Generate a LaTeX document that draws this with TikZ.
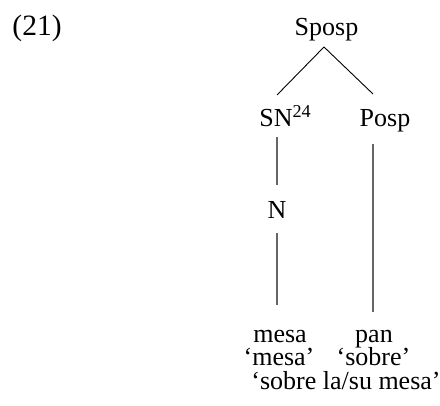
\documentclass[tikz,border=0pt]{standalone}
\usepackage{fontspec}
\setmainfont{Liberation Serif}
\begin{document}
\begin{tikzpicture}[x=1pt,y=1pt,
  lbl/.style={anchor=base,inner sep=0pt,outer sep=0pt,font=\fontsize{26}{30}\selectfont},
  diag/.style={draw=black,line width=0.9pt},
  vert/.style={draw=black!60,line width=1.3pt}]
\useasboundingbox (0,0) rectangle (440,406);
\node[lbl,anchor=base west,font=\fontsize{29.5}{33}\selectfont] (ex) at (12.5,370) {(21)};
\node[lbl] (sposp) at (326.5,370) {Sposp};
\node[lbl] (sn) at (276,279) {SN\rlap{\smash{\textsuperscript{24}}}};
\node[lbl] (posp) at (385,279) {Posp};
\node[lbl] (n) at (277,187) {N};
\node[lbl] (mesa) at (280,63) {mesa};
\node[lbl] (pan) at (374,63) {pan};
\node[lbl] (gmesa) at (279,40) {‘mesa’};
\node[lbl] (gsobre) at (373.5,40) {‘sobre’};
\node[lbl] (trans) at (346,16) {‘sobre la/su mesa’};
\draw[diag] ([xshift=-2.5pt,yshift=-11pt]sposp.base) -- ([xshift=1pt,yshift=32pt]sn.base);
\draw[diag] ([xshift=-2.5pt,yshift=-11pt]sposp.base) -- ([xshift=-12pt,yshift=33pt]posp.base);
\draw[vert] ([xshift=1pt,yshift=-10pt]sn.base) -- ([yshift=34pt]n.base);
\draw[vert] ([yshift=-14pt]n.base) -- ([xshift=-3pt,yshift=38pt]mesa.base);
\draw[vert] ([xshift=-12pt,yshift=-17pt]posp.base) -- ([xshift=-1pt,yshift=31pt]pan.base);
\end{tikzpicture}
\end{document}
